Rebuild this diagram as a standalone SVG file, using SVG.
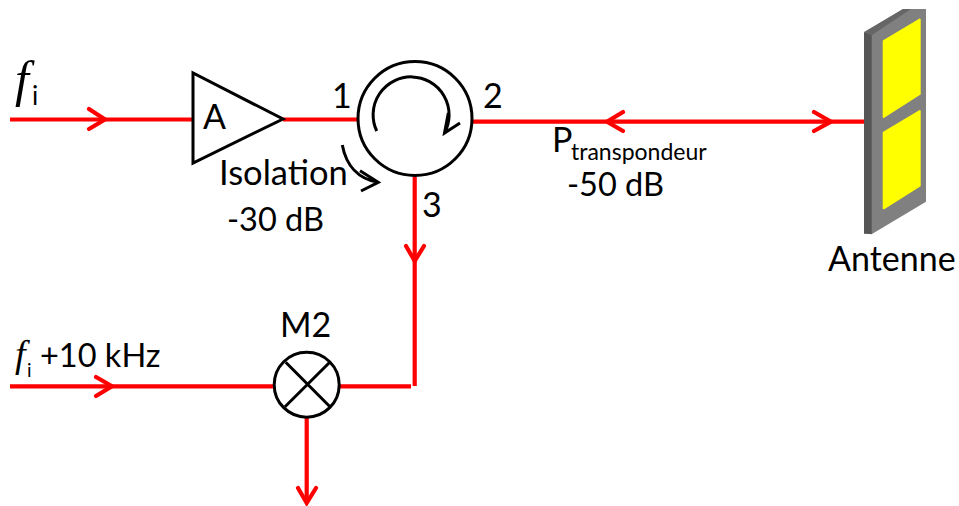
<svg xmlns="http://www.w3.org/2000/svg" width="959" height="506" viewBox="0 0 959 506">
<style>
.w{fill:none;stroke:#f00;stroke-width:4.2}
.h{fill:none;stroke:#f00;stroke-width:4.2;stroke-linecap:round;stroke-linejoin:miter}
.b{fill:#fff;stroke:#000;stroke-width:3}
.k{fill:none;stroke:#000;stroke-width:3}
text{font-family:"Lato","Open Sans","Liberation Sans",sans-serif;font-size:34px;fill:#000}
.s{font-size:32.5px}
.f{font-family:"Liberation Serif",serif;font-style:italic}
</style>
<rect width="959" height="506" fill="#fff"/>
<g id="connectors">
<path class="w" d="M10 119.5H193M283 119.5H358M472 121.7H864M414.7 176V386M10 386.3H274M340 386.3H411M306.7 417V503"/>
<path class="h" d="M89 109L105 119.5L89 129M623 112L607 121.7L623 131M814 112L831 121.7L814 131M406 246L414.7 261L424 246M96 377L112 386.3L96 396M298 488L306.7 503L316 488"/>
</g>
<g id="amplifier">
<path class="b" d="M193 73V163L283 119Z"/>
<text x="203" y="129">A</text>
</g>
<g id="circulator">
<circle class="b" cx="415" cy="118.5" r="57"/>
<path class="k" d="M376.7 131A38 38 0 1 1 444.5 133M448.3 113L444.5 133L460 123"/>
<text x="332" y="108">1</text>
<text x="483" y="108">2</text>
<text x="422" y="217">3</text>
</g>
<g id="isolation">
<path class="k" d="M342.3 145C346 165 358 179 378.3 182.3M360 170.7L378.3 182.3L361 191"/>
<text x="219" y="185" style="font-size:34.5px">Isolation</text>
<text class="s" x="227" y="231">-30 dB</text>
</g>
<g id="mixer">
<circle class="b" cx="306.7" cy="384.7" r="32.5"/>
<path class="k" d="M285.7 362.3L330 406.7M330 362L285 406.7"/>
<text x="280" y="337">M2</text>
</g>
<g id="antenna">
<path fill="#808080" d="M864 33L903 9H926V201.7L872 234H864Z"/>
<path fill="#666" d="M864 32L903 9H911L872 35Z"/>
<path fill="#555" d="M864 32L871.7 35V234.3L864 233.3Z"/>
<path fill="#ff0" stroke="#ff0" stroke-width="2" stroke-linejoin="round" d="M883.7 41L919.7 19.5V94L883.7 117ZM883.7 132.7L919.7 111V185.7L883.7 208.3Z"/>
<text x="828" y="271">Antenne</text>
</g>
<g id="labels">
<text class="f" x="15" y="96" style="font-size:50px">f</text>
<text x="32" y="105" style="font-size:26px">i</text>
<text class="f" x="15" y="367" style="font-size:38px">f</text>
<text x="27" y="377" style="font-size:19px">i</text>
<text class="s" x="40" y="367">+10 kHz</text>
<text x="552" y="152">P</text>
<text x="571" y="160" style="font-size:23px">transpondeur</text>
<text class="s" x="567" y="196">-50 dB</text>
</g>
</svg>
